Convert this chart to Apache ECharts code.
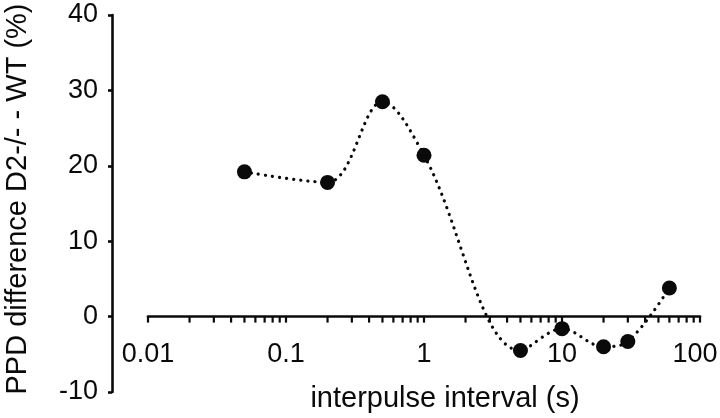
<!DOCTYPE html>
<html>
<head>
<meta charset="utf-8">
<script src="https://cdn.jsdelivr.net/npm/echarts@6/dist/echarts.min.js"></script>
<style>html,body{margin:0;padding:0;background:#fff;}#c{width:720px;height:418px;}</style>
</head>
<body>
<div id="c"></div>
<script>
// interpulse interval (s)
const intervals = [0.05, 0.2, 0.5, 1, 5, 10, 20, 30, 60];
// PPD difference D2-/- - WT (%)
const ppdDiff = [19.2, 17.8, 28.5, 21.4, -4.5, -1.6, -4.0, -3.3, 3.8];
const xTickLabels = ['0.01', '0.1', '1', '10', '100'];
const yTickValues = [-10, 0, 10, 20, 30, 40];

// minor/major tick marks of the log axis (axis decoration, not data)
const tickMarks = [];
[0.01, 0.1, 1, 10].forEach(d => { for (let m = 1; m <= 9; m++) tickMarks.push([+(d * m).toPrecision(3), 0]); });
tickMarks.push([100, 0]);

const FONT = "'Liberation Sans', Arial, Helvetica, sans-serif";
const INK = '#0a0a0a';

const logAxisBase = {type: 'log', logBase: 10, min: 0.01, max: 100, interval: 1, splitLine: {show: false}};

const chart = echarts.init(document.getElementById('c'), null, {renderer: 'canvas'});
chart.setOption({
  animation: false,
  backgroundColor: '#fff',
  grid: {left: 148, right: 20, top: 15, bottom: 26, containLabel: false, outerBoundsMode: 'none'},
  xAxis: [
    Object.assign({}, logAxisBase, {
      position: 'bottom',
      axisLine: {onZero: true, lineStyle: {color: INK, width: 2.6, cap: 'round'}},
      axisTick: {show: false},
      axisLabel: {show: false}
    }),
    Object.assign({}, logAxisBase, {
      position: 'bottom', offset: -74,
      axisLine: {show: false, onZero: false},
      axisTick: {show: false},
      axisLabel: {
        margin: 23, color: INK, fontSize: 27, fontFamily: FONT,
        formatter: v => {
          const i = Math.round(Math.log10(v)) + 2;
          const t = xTickLabels[i] || '';
          return i === xTickLabels.length - 1 ? '{last|' + t + '}' : t;
        },
        rich: {last: {color: INK, fontSize: 27, fontFamily: FONT, padding: [0, 10, 0, 0]}}
      },
      name: 'interpulse interval (s)', nameLocation: 'middle', nameGap: 66,
      nameTextStyle: {color: INK, fontSize: 29, fontFamily: FONT, padding: [0, 0, 0, 42]}
    })
  ],
  yAxis: {
    type: 'value', min: yTickValues[0], max: yTickValues[yTickValues.length - 1], interval: 10,
    offset: 36,
    axisLine: {show: true, lineStyle: {color: INK, width: 2.6}},
    axisTick: {show: true, inside: false, length: 4, lineStyle: {color: INK, width: 2.6}},
    splitLine: {show: false},
    axisLabel: {margin: 14, color: INK, fontSize: 27, fontFamily: FONT, padding: [9, 0, 0, 0]},
    name: 'PPD difference D2-/- - WT (%)', nameLocation: 'middle', nameRotate: 90, nameGap: 80,
    nameTextStyle: {color: INK, fontSize: 29, fontFamily: FONT, padding: [0, 0, 0, 9]}
  },
  series: [
    {
      type: 'scatter', xAxisIndex: 0, yAxisIndex: 0, data: tickMarks, silent: true, z: 10,
      symbol: 'rect', symbolSize: [2.2, 6], symbolOffset: [0, 3], clip: false,
      itemStyle: {color: INK, opacity: 1}
    },
    {
      type: 'line', xAxisIndex: 0, data: intervals.map((x, i) => [x, ppdDiff[i]]), smooth: 0.35, z: 3,
      symbol: 'circle', symbolSize: 15,
      itemStyle: {color: INK, borderWidth: 0},
      lineStyle: {color: INK, width: 3.2, type: [0.1, 7], cap: 'round'}
    }
  ]
});
</script>
</body>
</html>
